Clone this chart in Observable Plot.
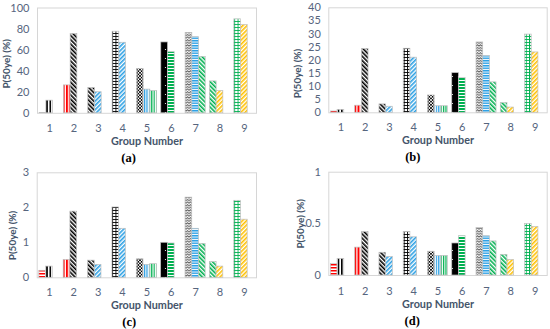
<!DOCTYPE html>
<html>
<head>
<meta charset="utf-8">
<script src="https://cdn.jsdelivr.net/npm/d3@7"></script>
<script src="https://cdn.jsdelivr.net/npm/@observablehq/plot@0.6"></script>
<style>
  html, body { margin: 0; padding: 0; background: #fff; }
  #wrap { position: relative; width: 550px; height: 329px; overflow: hidden; background: #fff; }
  .panel { position: absolute; }
</style>
</head>
<body>
<div id="wrap"></div>
<script>
// ---------- data ----------
const groupTicks = [1, 2, 3, 4, 5, 6, 7, 8, 9];
const groups  = [1, 1, 2, 2, 3, 3, 4, 4, 5, 5, 5, 6, 6, 7, 7, 7, 8, 8, 9, 9];
const slots   = [0, 1, 0, 1, 0, 1, 0, 1, 0, 1, 2, 0, 1, 0, 1, 2, 0, 1, 0, 1];
const fills   = ["redH", "blackV", "redV", "blackDD", "blackDD", "blueUD", "blackGrid", "blueUD",
                 "blackChecker", "blueV", "greenV", "blackDots", "greenH", "greyZig", "blueH", "greenDD",
                 "greenDD", "orangeUD", "greenGrid", "orangeUD"];
const valuesA = [0.3, 12, 26.5, 75.3, 24, 20, 77.5, 67, 42.2, 22.5, 21.2, 67.3, 58, 76.4, 72.3, 53.6, 30.3, 21.2, 89.2, 83.8];
const valuesB = [0.5, 1.1, 2.7, 24.3, 3.2, 2.3, 24.4, 21, 6.6, 2.5, 2.5, 15.1, 13.3, 26.8, 21.6, 11.6, 3.7, 2.0, 29.8, 23];
const valuesC = [0.2, 0.32, 0.51, 1.89, 0.49, 0.37, 2.01, 1.4, 0.53, 0.37, 0.39, 1.0, 0.98, 2.29, 1.4, 0.97, 0.45, 0.32, 2.2, 1.66];
const valuesD = [0.11, 0.16, 0.27, 0.42, 0.22, 0.18, 0.42, 0.37, 0.23, 0.19, 0.19, 0.31, 0.38, 0.46, 0.38, 0.33, 0.20, 0.15, 0.5, 0.47];
const ticksA = [0, 20, 40, 60, 80, 100];
const ticksB = [0, 5, 10, 15, 20, 25, 30, 35, 40];
const ticksC = [0, 1, 2, 3];
const ticksD = [0, 0.5, 1];
const panelLabels = ["(a)", "(b)", "(c)", "(d)"];
const xTitle = "Group Number";
const yTitle = "P(50ye) (%)";

// ---------- colours & patterns ----------
const RED = "#FF0000", BLACK = "#000000", BLUE = "#2A9FE4", GREEN = "#00B050", ORANGE = "#FFC000", GREY = "#555555";
function hStripes(id, c, p, t) {
  return `<pattern id="${id}" patternUnits="userSpaceOnUse" width="4" height="${p}"><rect width="4" height="${p}" fill="#fff"/><rect width="4" height="${t}" fill="${c}"/></pattern>`;
}
function vStripes(id, c, p, t) {
  return `<pattern id="${id}" patternUnits="userSpaceOnUse" width="${p}" height="4"><rect width="${p}" height="4" fill="#fff"/><rect width="${t}" height="4" fill="${c}"/></pattern>`;
}
function diag(id, c, p, t, a) {
  return `<pattern id="${id}" patternUnits="userSpaceOnUse" width="${p}" height="${p}" patternTransform="rotate(${a})"><rect width="${p}" height="${p}" fill="#fff"/><rect width="${t}" height="${p}" fill="${c}"/></pattern>`;
}
function grid(id, c, w, h, t) {
  return `<pattern id="${id}" patternUnits="userSpaceOnUse" width="${w}" height="${h}"><rect width="${w}" height="${h}" fill="#fff"/><rect width="${t}" height="${h}" fill="${c}"/><rect width="${w}" height="${t}" fill="${c}"/></pattern>`;
}
function checker(id, c, s) {
  return `<pattern id="${id}" patternUnits="userSpaceOnUse" width="${2*s}" height="${2*s}"><rect width="${2*s}" height="${2*s}" fill="#fff"/><rect width="${s}" height="${s}" fill="${c}"/><rect x="${s}" y="${s}" width="${s}" height="${s}" fill="${c}"/></pattern>`;
}
function dots(id) {
  return `<pattern id="${id}" patternUnits="userSpaceOnUse" width="6" height="9"><rect width="6" height="9" fill="#000"/><circle cx="3.5" cy="4.5" r="0.6" fill="#fff"/></pattern>`;
}
function zig(id, c) {
  return `<pattern id="${id}" patternUnits="userSpaceOnUse" width="3" height="2.6"><rect width="3" height="2.6" fill="#fff"/><path d="M0,2 L1.5,0.6 L3,2" fill="none" stroke="${c}" stroke-width="0.9"/></pattern>`;
}
const defsSvg = `<svg width="0" height="0" style="position:absolute;left:0;top:0"><defs>
${hStripes("redH", RED, 3, 1.5)}
${vStripes("blackV", BLACK, 3.3, 1.6)}
${vStripes("redV", RED, 3.3, 2)}
${diag("blackDD", BLACK, 3, 1.6, -45)}
${diag("blueUD", BLUE, 3, 1.6, 45)}
${grid("blackGrid", BLACK, 3.3, 3, 0.9)}
${checker("blackChecker", BLACK, 1.6)}
${vStripes("blueV", BLUE, 2.4, 1.2)}
${vStripes("greenV", GREEN, 2.4, 1.2)}
${dots("blackDots")}
${hStripes("greenH", GREEN, 3, 2)}
${zig("greyZig", GREY)}
${hStripes("blueH", BLUE, 2.5, 1.5)}
${diag("greenDD", GREEN, 3, 1.6, -45)}
${diag("orangeUD", ORANGE, 3, 1.6, 45)}
${grid("greenGrid", GREEN, 3.3, 3, 0.9)}
</defs></svg>`;

const wrap = document.getElementById("wrap");
wrap.insertAdjacentHTML("beforeend", defsSvg);

// ---------- layout ----------
const layouts = [
  {left: 0,   top: 0,   h: 165, mL: 37,   mR: 19,  mT: 7.5, mB: 52.2, xDy: 7,   gnDy: 28,   lbDy: 44.7, lbX: 128,   ytX: 6.7,  ytY: 63.3},
  {left: 275, top: 0,   h: 165, mL: 53.3, mR: 3.3, mT: 7.3, mB: 52.7, xDy: 6.5, gnDy: 28.2, lbDy: 43.7, lbX: 137.3, ytX: 22.3, ytY: 73},
  {left: 0,   top: 165, h: 164, mL: 36.7, mR: 19,  mT: 7.3, mB: 51.7, xDy: 6.5, gnDy: 28.2, lbDy: 43.7, lbX: 128.7, ytX: 12,   ytY: 70},
  {left: 275, top: 165, h: 164, mL: 53.3, mR: 3.3, mT: 6.7, mB: 54,   xDy: 7.5, gnDy: 29.5, lbDy: 45.3, lbX: 136.7, ytX: 25,   ytY: 58.3}
];
const allValues = [valuesA, valuesB, valuesC, valuesD];
const allTicks = [ticksA, ticksB, ticksC, ticksD];
const BW = 0.275; // bar width in group units
const TICK = "#56657E", TITLE = "#44546A";

allValues.forEach((vals, i) => {
  const L = layouts[i];
  const W = 275;
  const data = groups.map((g, j) => ({group: g, slot: slots[j], fill: `url(#${fills[j]})`, value: vals[j]}));
  const ticks = allTicks[i];
  const frameCx = (L.mL + (W - L.mR)) / 2;
  const frameCy = (L.mT + (L.h - L.mB)) / 2;
  const chart = Plot.plot({
    width: W,
    height: L.h,
    marginLeft: L.mL, marginRight: L.mR, marginTop: L.mT, marginBottom: L.mB,
    style: {fontFamily: "Lato, 'Open Sans', sans-serif", background: "transparent", overflow: "visible"},
    x: {domain: [0.5, 9.5]},
    y: {domain: [0, ticks[ticks.length - 1]]},
    color: {type: "identity"},
    marks: [
      Plot.frame({stroke: "#D6D6D6", strokeWidth: 1}),
      Plot.rect(data, {
        x1: d => d.group + (d.slot - 1.5) * BW,
        x2: d => d.group + (d.slot - 0.5) * BW,
        y1: 0,
        y2: "value",
        fill: "fill",
        stroke: "#BFBFBF",
        strokeWidth: 0.7
      }),
      Plot.axisY({ticks, tickSize: 0, tickPadding: 8, fontSize: 11, color: TICK, fill: TICK, label: null, tickFormat: d => String(d)}),
      Plot.axisX({ticks: groupTicks, tickSize: 0, tickPadding: 4, dy: L.xDy, fontSize: 11, color: TICK, fill: TICK, label: null, tickFormat: d => String(d)}),
      Plot.text([xTitle], {frameAnchor: "bottom", lineAnchor: "middle", dy: L.gnDy, text: d => d, fontWeight: "bold", fontSize: 10.8, fill: TITLE}),
      Plot.text([panelLabels[i]], {frameAnchor: "bottom", lineAnchor: "middle", dy: L.lbDy, dx: L.lbX - frameCx, text: d => d, fontFamily: "'Liberation Serif', serif", fontWeight: "bold", fontSize: 12.5, fill: "#000"}),
      Plot.text([yTitle], {frameAnchor: "left", textAnchor: "middle", lineAnchor: "middle", rotate: -90, dx: L.ytX - L.mL, dy: L.ytY - frameCy, text: d => d, fontWeight: "bold", fontSize: 10, fill: TITLE})
    ]
  });
  const div = document.createElement("div");
  div.className = "panel";
  div.style.left = L.left + "px";
  div.style.top = L.top + "px";
  div.appendChild(chart);
  wrap.appendChild(div);
});
</script>
</body>
</html>
